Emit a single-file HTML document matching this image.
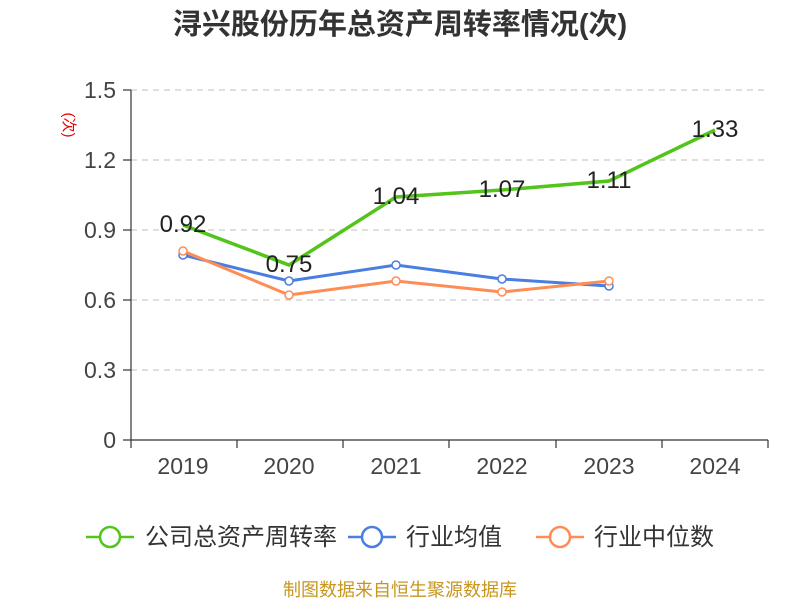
<!DOCTYPE html>
<html><head><meta charset="utf-8"><style>body{margin:0;background:#fff}svg{display:block}</style></head><body>
<svg width="800" height="600" xmlns="http://www.w3.org/2000/svg" font-family="Liberation Sans, Noto Sans CJK SC, sans-serif">
<text x="400" y="34" text-anchor="middle" font-size="29" font-weight="bold" fill="#333">浔兴股份历年总资产周转率情况(次)</text>
<text x="64" y="125" font-size="15" fill="#e00" transform="rotate(90 64 125)" text-anchor="middle">(次)</text>
<g stroke="#ccc" stroke-dasharray="6,5" stroke-width="1.2">
<line x1="131" y1="90" x2="768" y2="90"/><line x1="131" y1="160" x2="768" y2="160"/><line x1="131" y1="230" x2="768" y2="230"/><line x1="131" y1="300" x2="768" y2="300"/><line x1="131" y1="370" x2="768" y2="370"/>
</g>
<g stroke="#333" stroke-width="1.2">
<line x1="131" y1="90" x2="131" y2="440"/><line x1="131" y1="440" x2="768" y2="440"/>
<line x1="123" y1="90" x2="131" y2="90"/><line x1="123" y1="160" x2="131" y2="160"/><line x1="123" y1="230" x2="131" y2="230"/><line x1="123" y1="300" x2="131" y2="300"/><line x1="123" y1="370" x2="131" y2="370"/><line x1="123" y1="440" x2="131" y2="440"/>
<line x1="131" y1="440" x2="131" y2="448"/><line x1="237" y1="440" x2="237" y2="448"/><line x1="343" y1="440" x2="343" y2="448"/><line x1="449" y1="440" x2="449" y2="448"/><line x1="556" y1="440" x2="556" y2="448"/><line x1="662" y1="440" x2="662" y2="448"/><line x1="768" y1="440" x2="768" y2="448"/>
</g>
<g font-size="23" fill="#444" text-anchor="end">
<text x="116" y="98">1.5</text><text x="116" y="168">1.2</text><text x="116" y="238">0.9</text><text x="116" y="308">0.6</text><text x="116" y="378">0.3</text><text x="116" y="448">0</text>
</g>
<g font-size="23" fill="#444" text-anchor="middle">
<text x="183" y="474">2019</text><text x="289" y="474">2020</text><text x="396" y="474">2021</text><text x="502" y="474">2022</text><text x="609" y="474">2023</text><text x="715" y="474">2024</text>
</g>
<polyline points="183,225 289,265 396,197 502,190 609,181 715,130" fill="none" stroke="#52c41a" stroke-width="3.5"/>
<polyline points="183,255 289,281 396,265 502,279 609,286" fill="none" stroke="#4a7ee0" stroke-width="3"/>
<polyline points="183,251 289,295 396,281 502,292 609,281" fill="none" stroke="#ff8c55" stroke-width="3"/>
<g fill="#fff" stroke-width="1.5">
<g stroke="#4a7ee0"><circle cx="183" cy="255" r="4"/><circle cx="289" cy="281" r="4"/><circle cx="396" cy="265" r="4"/><circle cx="502" cy="279" r="4"/><circle cx="609" cy="286" r="4"/></g>
<g stroke="#ff8c55"><circle cx="183" cy="251" r="4"/><circle cx="289" cy="295" r="4"/><circle cx="396" cy="281" r="4"/><circle cx="502" cy="292" r="4"/><circle cx="609" cy="281" r="4"/></g>
</g>
<g font-size="24" fill="#222" text-anchor="middle">
<text x="183" y="232">0.92</text><text x="289" y="272">0.75</text><text x="396" y="204">1.04</text><text x="502" y="197">1.07</text><text x="609" y="188">1.11</text><text x="715" y="137">1.33</text>
</g>
<g stroke-width="2.5" fill="#fff">
<line x1="86" y1="537" x2="134" y2="537" stroke="#52c41a"/><circle cx="110" cy="537" r="10" stroke="#52c41a"/>
<line x1="348" y1="537" x2="396" y2="537" stroke="#4a7ee0"/><circle cx="372" cy="537" r="10" stroke="#4a7ee0"/>
<line x1="536" y1="537" x2="584" y2="537" stroke="#ff8c55"/><circle cx="560" cy="537" r="10" stroke="#ff8c55"/>
</g>
<g font-size="24" fill="#333">
<text x="145" y="545">公司总资产周转率</text><text x="406" y="545">行业均值</text><text x="594" y="545">行业中位数</text>
</g>
<text x="400" y="596" text-anchor="middle" font-size="18" fill="#c8961e">制图数据来自恒生聚源数据库</text>
</svg>
</body></html>
